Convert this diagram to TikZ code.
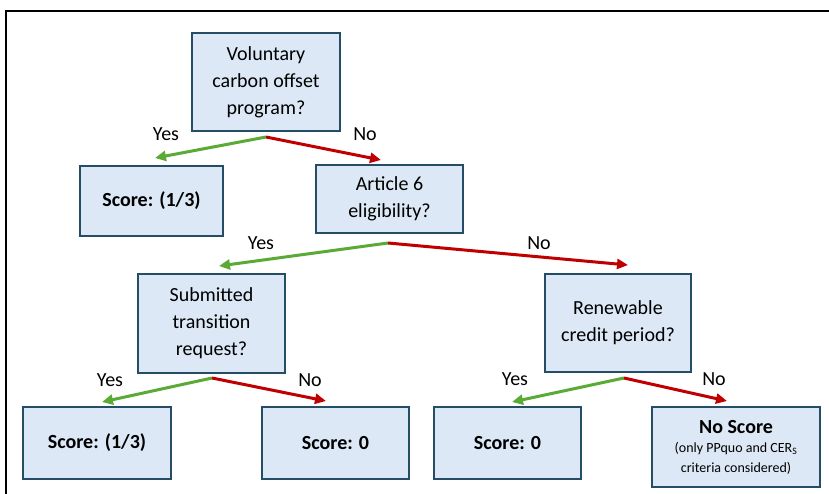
\documentclass[tikz,border=0pt]{standalone}
\usepackage{fontspec}
\setmainfont{Carlito}
\usetikzlibrary{arrows.meta}
\definecolor{boxfill}{HTML}{DCE8F5}
\definecolor{boxline}{HTML}{254E66}
\definecolor{yesgreen}{HTML}{5AAA35}
\definecolor{nored}{HTML}{C00000}
\tikzset{
  qbox/.style={draw=boxline, line width=1.6pt, fill=boxfill, align=center, inner sep=2pt,
    font=\fontsize{20}{27}\selectfont},
  sbox/.style={qbox, font=\fontsize{20}{25}\selectfont\bfseries},
  lbl/.style={font=\fontsize{20}{24}\selectfont, inner sep=0pt},
  yesarrow/.style={draw=yesgreen, line width=3pt, -{Triangle[length=11pt,width=10pt]}},
  noarrow/.style={draw=nored, line width=3pt, -{Triangle[length=11pt,width=10pt]}},
}
\begin{document}
\begin{tikzpicture}[x=1pt,y=-1pt]
\useasboundingbox (0,0) rectangle (829,494);
\draw[line width=1.6pt] (6,494) -- (6,11) -- (829,11);
% question boxes
\node[qbox, minimum width=148pt, minimum height=98pt] (q1) at (266,82) {Voluntary\\carbon offset\\program?};
\node[qbox, minimum width=147pt, minimum height=68pt] (q2) at (389.5,199) {Article 6\\eligibility?};
\node[qbox, minimum width=147pt, minimum height=99pt] (q3) at (211.5,323.5) {Submitted\\transition\\request?};
\node[qbox, minimum width=146pt, minimum height=98pt] (q4) at (618,323) {Renewable\\credit period?};
% score boxes
\node[sbox, minimum width=143pt, minimum height=70pt] (s1) at (151.5,201) {Score: (1/3)};
\node[sbox, minimum width=148pt, minimum height=72pt] (s2) at (97,443) {Score: (1/3)};
\node[sbox, minimum width=147pt, minimum height=72pt] (s3) at (335.5,443) {Score: 0};
\node[sbox, minimum width=147pt, minimum height=72pt] (s4) at (507.5,443) {Score: 0};
\node[qbox, minimum width=168pt, minimum height=80pt, font=\fontsize{20}{24}\selectfont] (s5) at (736,447)
  {\textbf{No Score}\\[-5pt]{\fontsize{14}{19}\selectfont (only PPquo and CER\textsubscript{S}}\\[-4pt]{\fontsize{14}{19}\selectfont criteria considered)}};
% arrow anchor coordinates
\coordinate (q1o) at (266,137);
\coordinate (s1i) at (155,158);
\coordinate (q2i) at (381,160);
\coordinate (q2o) at (388,243);
\coordinate (q3i) at (219,266);
\coordinate (q4i) at (628,265);
\coordinate (q3o) at (212,378);
\coordinate (s2i) at (102,402);
\coordinate (s3i) at (326,401);
\coordinate (q4o) at (624,378);
\coordinate (s4i) at (512,402);
\coordinate (s5i) at (727,401);
% arrows
\draw[yesarrow] (q1o) -- (s1i);
\draw[noarrow] (q1o) -- (q2i);
\draw[yesarrow] (q2o) -- (q3i);
\draw[noarrow] (q2o) -- (q4i);
\draw[yesarrow] (q3o) -- (s2i);
\draw[noarrow] (q3o) -- (s3i);
\draw[yesarrow] (q4o) -- (s4i);
\draw[noarrow] (q4o) -- (s5i);
% labels
\node[lbl] (l1) at (166,134) {Yes};
\node[lbl] (l2) at (365,134) {No};
\node[lbl] (l3) at (261,243) {Yes};
\node[lbl] (l4) at (539,243) {No};
\node[lbl] (l5) at (110,380) {Yes};
\node[lbl] (l6) at (310,380) {No};
\node[lbl] (l7) at (515,379) {Yes};
\node[lbl] (l8) at (714,379) {No};
\end{tikzpicture}
\end{document}
